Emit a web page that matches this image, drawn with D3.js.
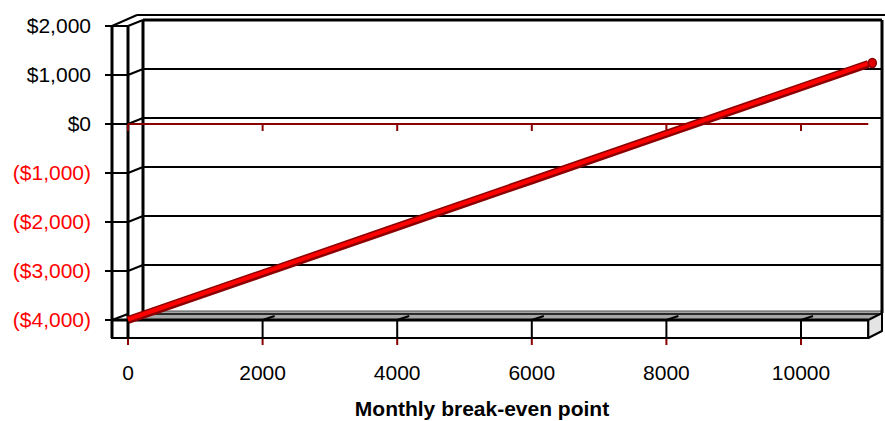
<!DOCTYPE html>
<html>
<head>
<meta charset="utf-8">
<script src="https://cdn.jsdelivr.net/npm/d3@7"></script>
<style>
  html, body { margin: 0; padding: 0; background: #fff; }
  svg { display: block; font-family: "Liberation Sans", Arial, sans-serif; }
</style>
</head>
<body>
<div id="chart"></div>
<script>
// Dados
const units = [0, 2000, 4000, 6000, 8000, 10000, 11000];
const profit = [-4000, -3050, -2100, -1150, -200, 750, 1225];
const yTicks = [2000, 1000, 0, -1000, -2000, -3000, -4000];
const xTicks = [0, 2000, 4000, 6000, 8000, 10000];
const xTitle = 'Monthly break-even point';

const W = 885, H = 421;
const svg = d3.select('#chart').append('svg')
    .attr('width', W)
    .attr('height', H);

// Escalas (plano frontal)
const x = d3.scaleLinear().domain([0, 10000]).range([128, 801]);
const y = d3.scaleLinear().domain([-4000, 2000]).range([320, 26]);

// Deslocamento de profundidade (efeito 3D)
const dx = 15, dy = -6;
const xEnd = x(11000);
const backRight = 882;

const fmt = d3.format(',');
const money = v => v < 0 ? `($${fmt(-v)})` : `$${fmt(v)}`;

// Linhas de grade da parede do fundo
const grid = svg.append('g');
yTicks.filter(v => v > -4000).forEach(v => {
    grid.append('line')
        .attr('x1', x(0) + dx).attr('x2', backRight)
        .attr('y1', y(v) + dy).attr('y2', y(v) + dy)
        .attr('stroke', '#000').attr('stroke-width', v === 2000 ? 3 : 2);
    grid.append('line')
        .attr('x1', x(0)).attr('y1', y(v))
        .attr('x2', x(0) + dx).attr('y2', y(v) + dy)
        .attr('stroke', '#000').attr('stroke-width', 2);
});
yTicks.forEach(v => {
    grid.append('line')
        .attr('x1', 105).attr('x2', x(0))
        .attr('y1', y(v)).attr('y2', y(v))
        .attr('stroke', '#000').attr('stroke-width', 2);
});

// Piso
const y0 = y(-4000);
svg.append('polygon')
    .attr('points', [[x(0), y0], [x(0) + dx, y0 - 9], [backRight, y0 - 9], [xEnd, y0]].join(' '))
    .attr('fill', '#a6a6a6');
svg.append('line')
    .attr('x1', x(0) + dx).attr('x2', backRight)
    .attr('y1', y0 - 9).attr('y2', y0 - 9)
    .attr('stroke', '#555').attr('stroke-width', 1);
svg.append('line')
    .attr('x1', x(0) + dx).attr('x2', backRight)
    .attr('y1', y0 + dy).attr('y2', y0 + dy)
    .attr('stroke', '#000').attr('stroke-width', 1.5);

// Face frontal do piso
svg.append('rect')
    .attr('x', 112).attr('y', y0)
    .attr('width', xEnd - 112).attr('height', 18)
    .attr('fill', '#fff').attr('stroke', '#000').attr('stroke-width', 2);
svg.append('line')
    .attr('x1', 112).attr('x2', xEnd)
    .attr('y1', y0).attr('y2', y0)
    .attr('stroke', '#000').attr('stroke-width', 3);
svg.append('polygon')
    .attr('points', [[xEnd, y0], [backRight, y0 - 7], [backRight, y0 + 11], [xEnd, y0 + 18]].join(' '))
    .attr('fill', '#e4e4e4').attr('stroke', '#000').attr('stroke-width', 2)
    .attr('stroke-linejoin', 'round');
svg.append('line')
    .attr('x1', 112).attr('y1', y0)
    .attr('x2', x(0)).attr('y2', y0 + dy)
    .attr('stroke', '#000').attr('stroke-width', 2);

// Marcas do eixo X no piso
xTicks.forEach(v => {
    const xx = x(v);
    svg.append('line')
        .attr('x1', xx).attr('x2', xx).attr('y1', y0).attr('y2', y0 + 18)
        .attr('stroke', '#000').attr('stroke-width', 2);
    if (v > 0) {
        svg.append('line')
            .attr('x1', xx).attr('y1', y0)
            .attr('x2', xx + 12).attr('y2', y0 - 4)
            .attr('stroke', '#000').attr('stroke-width', 2);
    }
    svg.append('line')
        .attr('x1', xx).attr('x2', xx).attr('y1', y0 + 19).attr('y2', y0 + 25)
        .attr('stroke', '#8b0000').attr('stroke-width', 2);
});

// Parede lateral e bordas
const frame = svg.append('g').attr('stroke', '#000').attr('fill', 'none');
frame.append('line').attr('x1', 112).attr('x2', 112).attr('y1', y(2000)).attr('y2', y0 + 18).attr('stroke-width', 3);
frame.append('line').attr('x1', 128).attr('x2', 128).attr('y1', y(2000)).attr('y2', y0 + 18).attr('stroke-width', 3);
frame.append('line').attr('x1', 143).attr('x2', 143).attr('y1', y(2000) + dy).attr('y2', y0 + dy).attr('stroke-width', 3);
frame.append('line').attr('x1', 112).attr('y1', y(2000)).attr('x2', 137).attr('y2', 15).attr('stroke-width', 2);
frame.append('line').attr('x1', 137).attr('x2', W).attr('y1', 15).attr('y2', 15).attr('stroke-width', 2);
frame.append('line').attr('x1', backRight).attr('x2', backRight).attr('y1', y(2000) + dy).attr('y2', y0 - 7).attr('stroke-width', 3);

// Linha do zero
svg.append('line')
    .attr('x1', x(0)).attr('x2', xEnd)
    .attr('y1', y(0)).attr('y2', y(0))
    .attr('stroke', '#8b0000').attr('stroke-width', 2);
xTicks.forEach(v => {
    svg.append('line')
        .attr('x1', x(v)).attr('x2', x(v))
        .attr('y1', y(0)).attr('y2', y(0) + 7)
        .attr('stroke', '#8b0000').attr('stroke-width', 2);
});

// Série
const pts = units.map((u, i) => [u, profit[i]]);
const line = d3.line().x(d => x(d[0])).y(d => y(d[1]));
svg.append('path')
    .attr('d', line(pts))
    .attr('fill', 'none')
    .attr('stroke', '#8b0000')
    .attr('stroke-width', 8);
svg.append('path')
    .attr('d', line(pts))
    .attr('fill', 'none')
    .attr('stroke', '#ff0000')
    .attr('stroke-width', 4)
    .attr('transform', 'translate(0,-0.5)');
svg.append('ellipse')
    .attr('cx', x(units[units.length - 1]) + 4)
    .attr('cy', y(profit[profit.length - 1]) - 1)
    .attr('rx', 4).attr('ry', 4.5)
    .attr('fill', '#e00000').attr('stroke', '#8b0000').attr('stroke-width', 1.5);

// Rótulos do eixo Y
svg.append('g').selectAll('text')
    .data(yTicks)
    .join('text')
    .attr('x', 91)
    .attr('y', d => y(d))
    .attr('dy', '0.35em')
    .attr('text-anchor', 'end')
    .attr('font-size', 21)
    .attr('fill', d => d < 0 ? '#ff0000' : '#000')
    .text(money);

// Rótulos do eixo X
svg.append('g').selectAll('text')
    .data(xTicks)
    .join('text')
    .attr('x', d => x(d))
    .attr('y', 380)
    .attr('text-anchor', 'middle')
    .attr('font-size', 21)
    .attr('fill', '#000')
    .text(d => d);

svg.append('text')
    .attr('x', 482)
    .attr('y', 416)
    .attr('text-anchor', 'middle')
    .attr('font-size', 21)
    .attr('font-weight', 'bold')
    .text(xTitle);
</script>
</body>
</html>
